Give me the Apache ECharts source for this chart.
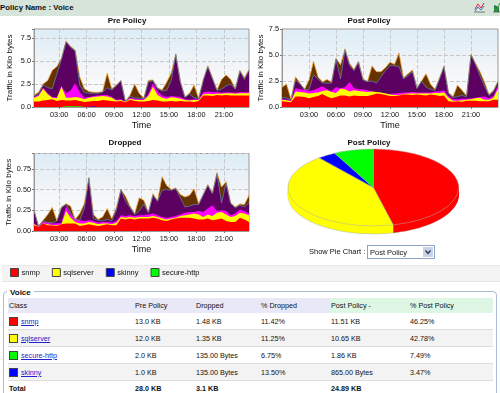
<!DOCTYPE html>
<html>
<head>
<meta charset="utf-8">
<script src="https://cdn.jsdelivr.net/npm/echarts@6/dist/echarts.min.js"></script>
<style>
  html, body { margin: 0; padding: 0; background: #fff; }
  body { position: relative; width: 500px; height: 393px; overflow: hidden; font-family: "Liberation Sans", sans-serif; color: #111; filter: blur(0.3px); }
  #main { position: absolute; left: 0; top: 0; width: 500px; height: 290px; z-index: 1; }
  .banner { position: absolute; left: 0; top: 0; width: 500px; height: 16px; background: #d6e4da; font: bold 7.8px/15px "Liberation Sans", sans-serif; color: #111; }
  .banner svg { position: absolute; top: 2px; }
  .legendStrip { position: absolute; left: 2px; top: 265px; width: 498px; height: 15px; background: #f4f4f4; border-top: 1px solid #eaeaea; border-bottom: 1px solid #e6e6e6; }
  .pieCtl { position: absolute; left: 309px; top: 245px; z-index: 2; font-size: 7.5px; line-height: 14px; white-space: nowrap; }
  .pieCtl select { position: absolute; left: 58px; top: 0; width: 68px; height: 14px; box-sizing: border-box; padding: 0 0 0 2px; font: 7.5px "Liberation Sans", sans-serif; color: #111; border: 1px solid #8ea3c4; border-radius: 0; background: #fff; appearance: none; }
  .pieCtl .arrow { position: absolute; left: 114px; top: 2px; width: 10px; height: 10px; background: #c6d3ea; pointer-events: none; }
  .box { position: absolute; left: 3px; top: 291px; width: 494px; height: 110px; box-sizing: border-box; border: 1px solid #a9bbd6; border-radius: 4px; }
  .box b { position: absolute; left: 3px; top: -4px; padding: 0 3px; background: #fff; font-size: 8px; line-height: 9px; }
  table { position: absolute; left: 8px; top: 298px; width: 485px; border-collapse: collapse; table-layout: fixed; font-size: 7.2px; }
  td, th { padding: 0 0 0 1px; text-align: left; font-weight: normal; white-space: nowrap; overflow: hidden; }
  thead th { height: 15px; background: #e8e8f6; }
  thead th.post { background: #def6e4; }
  tbody td { height: 16px; border-bottom: 1px solid #ddd; }
  tbody tr:nth-child(even) td { background: #f3f3f3; }
  tbody tr.total td { font-weight: bold; border-top: 1px solid #bbb; border-bottom: 0; height: 14px; }
  .sw { display: inline-block; width: 7px; height: 7px; border: 1px solid #444; margin-right: 3px; vertical-align: -2px; }
  a { color: #2222cc; }
</style>
</head>
<body>
<div class="banner">Policy Name : Voice
  <svg style="left:474px" width="11" height="11"><path d="M0 10 L11 10" stroke="#777"/><path d="M1 7 L4 2 L7 6 L10 1" stroke="#d24" fill="none"/><path d="M1 9 L4 5 L7 8 L10 4" stroke="#37c" fill="none"/></svg>
  <svg style="left:493px" width="7" height="11"><path d="M0 10 L7 10" stroke="#777"/><path d="M1 3 L1 10 L6 10 L6 5 Z" fill="#2a7a4a"/><path d="M1 6 L3 9 L7 1" stroke="#3a3" fill="none"/></svg>
</div>
<div class="legendStrip"></div>
<div id="main"></div>
<div class="pieCtl">Show Pie Chart :
  <select><option>Post Policy</option><option>Pre Policy</option><option>Dropped</option></select>
  <span class="arrow"><svg width="10" height="10"><path d="M2.5 3.5 L5 6.5 L7.5 3.5" stroke="#334" stroke-width="1.3" fill="none"/></svg></span>
</div>
<div class="box"><b>Voice</b></div>
<table id="tbl"></table>

<script>
// Every "Top" array is the upper edge of that layer,
// the layers are painted from the highest edge down so each one covers the rest.
const preRedTop = [.6,.6,.7,.75,.85,.65,.75,.7,.7,.75,.65,.55,
  .6,.65,.65,.75,.7,.65,.6,.65,.5,.8,.65,.6,
  .6,.65,.75,.7,.6,.6,.65,.6,.65,.6,.6,.55,
  .65,1.25,1.25,1.2,1.3,1.25,1.3,1.25,1.25,1.25,1.25,1.25];
const preYellowTop = [1.0,1.2,2.0,1.4,1.0,.95,2.2,1.0,1.0,1.1,1.0,.85,
  1.0,1.1,1.15,1.2,1.15,1.0,.7,.75,.55,.9,.8,.75,
  .75,1.2,2.2,1.3,1.0,.9,1.05,1.0,.9,.75,.7,.75,
  .75,1.4,1.45,1.4,1.45,1.45,1.5,1.5,1.45,1.5,1.5,1.5];
const preMagentaTop = [1.1,1.3,2.1,1.5,1.1,1.05,2.3,1.5,1.8,2.6,1.6,1.0,
  1.1,1.2,1.25,1.3,1.3,1.1,.8,.85,.57,1.0,.9,.85,
  .85,1.4,2.6,1.7,1.25,1.1,1.2,1.15,1.1,.85,.8,.85,
  .85,1.6,1.7,1.6,1.6,1.55,1.6,1.6,1.55,1.6,1.6,1.6];
const prePurpleTop = [1.2,1.4,2.4,2.1,2.0,3.6,5.2,7.1,6.5,6.1,2.4,1.6,
  1.5,1.5,1.5,1.6,2.1,1.85,2.3,2.85,.58,1.15,1.0,.95,
  .92,2.75,2.85,2.0,1.75,1.8,2.9,5.75,2.7,1.05,1.4,1.0,
  .92,2.9,4.4,3.1,1.8,1.95,2.3,2.5,1.95,3.9,3.0,4.0];
const preBrownTop = [1.3,1.6,2.5,2.9,4.0,4.4,5.3,7.2,6.6,6.2,3.3,2.0,
  1.7,1.6,1.6,1.7,3.7,2.0,2.4,2.9,.6,1.3,2.5,1.5,
  .95,2.9,2.95,2.1,1.85,2.7,3.7,5.8,2.8,1.1,1.5,2.4,
  .95,3.0,4.5,3.2,1.85,3.0,3.5,3.0,2.0,4.0,3.2,4.1];
// the thin strips lying on the axis of the Pre Policy chart
const preGreen = [0,0,0,0,0,0,0,.07,.08,.08,.07,0,
  0,0,0,0,0,0,0,0,0,0,0,0,
  0,0,0,0,0,0,0,0,0,0,0,0,
  0,0,0,0,0,0,0,0,0,0,0,0];
const preBlue = [0,0,0,0,0,0,0,0,0,0,0,0,
  .04,.05,0,0,0,0,0,0,0,0,0,0,
  0,0,0,0,0,0,0,0,0,0,0,0,
  0,0,0,0,0,0,0,0,0,0,0,0];

const postRedTop = [.55,.5,.45,1.0,1.0,.95,.85,.95,1.05,1.25,1.0,.85,
  .95,1.1,1.1,1.0,1.1,1.05,1.05,1.05,1.15,1.3,1.25,1.15,
  1.05,1.05,1.1,1.2,1.2,1.15,1.2,1.15,1.1,1.2,1.15,1.05,
  1.1,.55,.5,.55,.5,.6,.6,.6,.55,.55,.55,.7,.7];
const postYellowTop = [.7,.65,.55,1.5,1.45,1.4,1.3,1.35,1.4,1.55,1.6,1.45,
  1.35,1.75,1.7,1.5,1.6,1.55,1.5,1.45,1.5,1.45,1.4,1.3,
  1.2,1.15,1.15,1.25,1.3,1.3,1.3,1.3,1.3,1.3,1.35,1.35,
  1.4,.9,.6,.6,.65,.7,.75,.85,.9,.7,.7,.9,1.75];
const postMagentaTop = [.75,.7,.65,1.8,1.7,1.65,1.55,1.6,1.8,2.0,1.7,1.55,
  1.9,1.8,1.9,2.4,1.8,1.7,1.7,1.6,1.5,1.4,1.35,1.3,
  1.25,1.3,1.35,1.4,1.4,1.45,1.4,1.4,1.4,1.4,1.5,1.5,
  1.6,1.05,.75,.75,.8,.8,.8,.9,.95,1.0,.85,1.05,2.1];
const postPurpleTop = [.9,.85,.7,2.6,2.2,1.7,1.65,3.1,2.7,2.3,2.3,2.3,
  4.6,2.7,5.5,4.0,3.5,4.3,2.6,2.45,2.5,2.3,2.9,3.5,
  4.0,3.95,3.9,2.7,3.0,3.4,1.8,2.5,1.9,1.7,1.6,2.7,
  3.9,1.3,.9,1.0,1.1,1.0,5.0,4.1,3.0,2.0,1.1,1.5,2.4];
const postBrownTop = [1.9,2.2,.75,2.9,2.3,1.7,2.6,4.4,2.9,2.4,2.65,2.4,
  4.7,4.05,5.6,4.2,3.6,4.4,2.7,2.45,3.95,3.4,3.4,3.8,
  4.3,4.1,5.2,2.8,3.2,3.55,1.8,2.5,3.2,2.2,1.7,2.8,
  3.95,1.4,1.0,2.1,1.6,1.1,5.1,4.2,3.4,2.4,1.2,1.6,2.5];

const dropRedTop = [.07,.05,.09,.07,.065,.06,.08,.09,.09,.09,.06,.07,
  .08,.07,.06,.07,.08,.07,.07,.15,.14,.15,.14,.15,
  .15,.15,.16,.15,.13,.12,.14,.15,.16,.16,.16,.15,
  .14,.14,.15,.13,.14,.15,.12,.11,.11,.16,.14,.11];
const dropYellowTop = [.08,.05,.09,.08,.07,.07,.08,.24,.16,.11,.09,.09,
  .11,.1,.08,.09,.09,.08,.1,.17,.16,.17,.16,.17,
  .17,.17,.18,.17,.15,.14,.15,.16,.18,.19,.2,.21,
  .2,.17,.2,.18,.22,.23,.2,.17,.18,.22,.21,.19];
const dropMagentaTop = [.09,.06,.11,.1,.09,.09,.1,.3,.2,.15,.13,.12,
  .13,.12,.1,.11,.11,.1,.12,.19,.18,.19,.18,.19,
  .19,.2,.21,.19,.17,.16,.17,.18,.2,.22,.23,.23,
  .24,.23,.27,.31,.24,.25,.24,.19,.21,.26,.24,.21];
const dropPurpleTop = [.25,.055,.12,.1,.1,.12,.28,.32,.22,.13,.13,.27,
  .64,.15,.13,.12,.14,.12,.25,.5,.36,.28,.2,.24,
  .32,.22,.43,.36,.49,.5,.49,.51,.4,.29,.3,.32,
  .32,.44,.55,.45,.69,.34,.58,.33,.28,.31,.29,.34];
const dropBrownTop = [.25,.06,.13,.2,.285,.125,.29,.33,.3,.14,.21,.33,
  .645,.2,.14,.17,.27,.15,.28,.5,.42,.3,.21,.4,
  .37,.23,.45,.365,.655,.55,.5,.52,.44,.41,.43,.51,
  .33,.44,.56,.46,.705,.53,.595,.34,.29,.325,.32,.43];

const tickHours = [3, 6, 9, 12, 15, 18, 21];

const pieNames = ['snmp', 'sqlserver', 'skinny', 'secure-http'];
const pieKb = [11.51, 10.65, 0.865, 1.86];
const pieColors = ['#ff0000', '#ffff00', '#0000ff', '#00ff00'];

const tableHead = ['Class', 'Pre Policy', 'Dropped', '% Dropped', 'Post Policy -', '% Post Policy'];
const tableRows = [
  ['snmp', '#ff0000', '13.0 KB', '1.48 KB', '11.42%', '11.51 KB', '46.25%'],
  ['sqlserver', '#ffff00', '12.0 KB', '1.35 KB', '11.25%', '10.65 KB', '42.78%'],
  ['secure-http', '#00ff00', '2.0 KB', '135.00 Bytes', '6.75%', '1.86 KB', '7.49%'],
  ['skinny', '#0000ff', '1.0 KB', '135.00 Bytes', '13.50%', '865.00 Bytes', '3.47%']
];
const tableTotal = ['Total', '28.0 KB', '3.1 KB', '', '24.89 KB', ''];

// half hour samples as hours of the day, only the start differs between the charts
function halfHours(start, count){
  const out = [];
  for(let i = 0; i < count; i++) out.push(start + i * 0.5);
  return out;
}

function hhmm(hour){
  return String(Math.floor(hour)).padStart(2, '0') + ':00';
}

const font = '"Liberation Sans", sans-serif';
const grids = [
  { left: 34, top: 29, width: 215, height: 78 },
  { left: 282, top: 29, width: 216, height: 78 },
  { left: 34, top: 153.5, width: 215, height: 77.5 }
].map(g => Object.assign(g, {
  show: true,
  borderColor: '#9a9a9a',
  borderWidth: 1,
  backgroundColor: { type: 'linear', x: 0, y: 0, x2: 0, y2: 1, colorStops: [
    { offset: 0, color: '#dcecf6' }, { offset: 0.5, color: '#f3f5f8' }, { offset: 1, color: '#ffffff' }
  ] }
}));

const splitStyle = { show: true, lineStyle: { color: '#c8c8c8', type: 'dashed', width: 1 } };

function xAxis(gridIndex, times){
  return {
    type: 'value', gridIndex,
    min: times[0], max: times[times.length - 1],
    name: 'Time', nameLocation: 'middle', nameGap: 14,
    nameTextStyle: { fontFamily: font, fontSize: 9, color: '#111' },
    axisLine: { lineStyle: { color: '#9a9a9a' } },
    axisTick: { length: 2, lineStyle: { color: '#777' }, customValues: tickHours },
    axisLabel: { customValues: tickHours, formatter: hhmm, fontFamily: font, fontSize: 7.3, color: '#111', margin: 4 },
    splitLine: splitStyle
  };
}

function yAxis(gridIndex, max, interval, decimals, nameGap){
  return {
    type: 'value', gridIndex, min: 0, max, interval,
    name: 'Traffic in Kilo bytes', nameLocation: 'middle', nameGap,
    nameTextStyle: { fontFamily: font, fontSize: 8, color: '#111' },
    axisLine: { show: true, lineStyle: { color: '#9a9a9a' } },
    axisTick: { show: true, length: 2, lineStyle: { color: '#777' } },
    axisLabel: {
      formatter: v => (Math.abs(v / interval - Math.round(v / interval)) > 1e-6 ? '' : v.toFixed(decimals)),
      fontFamily: font, fontSize: 7.3, color: '#111', margin: 3
    },
    splitLine: splitStyle
  };
}

function layer(name, color, idx, times, top, lineColor){
  return {
    name, type: 'line', xAxisIndex: idx, yAxisIndex: idx,
    showSymbol: false, silent: true,
    lineStyle: lineColor ? { color: lineColor, width: 0.8 } : { width: 0 },
    itemStyle: { color },
    areaStyle: { color, opacity: 1 },
    data: top.map((v, i) => [times[i], v])
  };
}

// painted in this order, highest edge first
function stackFor(idx, times, red, yellow, magenta, purple, brown){
  return [
    layer('class-brown', '#663300', idx, times, brown, '#f2a63a'),
    layer('class-purple', '#5c0062', idx, times, purple, '#5f7fa8'),
    layer('class-magenta', '#ff00ff', idx, times, magenta),
    layer('sqlserver', '#ffff00', idx, times, yellow),
    layer('snmp', '#ff0000', idx, times, red)
  ];
}

const preTimes = halfHours(0.25, 48);
const postTimes = halfHours(0, 49);
const dropTimes = halfHours(0.25, 48);

// pie on a tilted plane: the sectors are squashed and the wall is the same sector repeated lower down
const pieCx = 373.3, pieCy = 187.5, pieRx = 85.3, pieSquash = 0.451, pieDepth = 8;
const pieTotal = pieKb.reduce((a, b) => a + b, 0);

function pieSector(dataIndex, value, dy, stroke){
  let before = 0;
  for(let i = 0; i < dataIndex; i++) before += pieKb[i];
  const a0 = -Math.PI / 2 + before / pieTotal * Math.PI * 2;
  const a1 = a0 + value / pieTotal * Math.PI * 2;
  return {
    type: 'sector', x: pieCx, y: pieCy + dy, scaleY: pieSquash,
    shape: { cx: 0, cy: 0, r0: 0, r: pieRx, startAngle: a0, endAngle: a1, clockwise: true },
    style: { fill: pieColors[dataIndex], stroke: stroke || pieColors[dataIndex], lineWidth: 0.7, strokeNoScale: true }
  };
}

const option = {
  animation: false,
  textStyle: { fontFamily: font },
  title: [
    { text: 'Pre Policy', left: 127, top: 17, textAlign: 'center' },
    { text: 'Post Policy', left: 369, top: 17, textAlign: 'center' },
    { text: 'Dropped', left: 125, top: 139, textAlign: 'center' },
    { text: 'Post Policy', left: 369, top: 139, textAlign: 'center' }
  ].map(t => Object.assign(t, { padding: 0, textStyle: { fontFamily: font, fontSize: 8, fontWeight: 'bold', color: '#111' } })),
  legend: {
    data: pieNames,
    left: 10, top: 268, padding: 0, icon: 'rect', itemWidth: 8, itemHeight: 8, itemGap: 12,
    selectedMode: false,
    itemStyle: { borderColor: '#444', borderWidth: 1 },
    textStyle: { fontFamily: font, fontSize: 7.5, color: '#111', padding: [0, 0, 0, -2] }
  },
  grid: grids,
  xAxis: [xAxis(0, preTimes), xAxis(1, postTimes), xAxis(2, dropTimes)],
  yAxis: [yAxis(0, 8.5, 2.5, 1, 20), yAxis(1, 7.5, 2.5, 1, 14), yAxis(2, 0.935, 0.25, 2, 20)],
  series: stackFor(0, preTimes, preRedTop, preYellowTop, preMagentaTop, prePurpleTop, preBrownTop).concat(
    [layer('secure-http', '#00ff00', 0, preTimes, preGreen), layer('skinny', '#0000ff', 0, preTimes, preBlue)],
    stackFor(1, postTimes, postRedTop, postYellowTop, postMagentaTop, postPurpleTop, postBrownTop),
    stackFor(2, dropTimes, dropRedTop, dropYellowTop, dropMagentaTop, dropPurpleTop, dropBrownTop),
    [{
      type: 'custom', name: 'pie wall', coordinateSystem: 'none', silent: true, z: 3,
      data: pieKb,
      renderItem: function(params, api){
        const children = [];
        for(let dy = pieDepth; dy > 0; dy--){
          children.push(pieSector(params.dataIndex, api.value(0), dy, dy === pieDepth ? '#aaaaaa' : null));
        }
        return { type: 'group', children };
      }
    }, {
      type: 'custom', name: 'pie top', coordinateSystem: 'none', silent: true, z: 4,
      data: pieKb,
      renderItem: function(params, api){
        return pieSector(params.dataIndex, api.value(0), 0, '#b0b0a8');
      }
    }]
  )
};

const chart = echarts.init(document.getElementById('main'), null, { renderer: 'canvas' });
chart.setOption(option);

// table under the charts
const colWidths = [126, 61, 65, 70, 79, 84];
let html = '<colgroup>' + colWidths.map(w => '<col style="width:' + w + 'px">').join('') + '</colgroup><thead><tr>';
tableHead.forEach((h, i) => { html += '<th' + (i >= 4 ? ' class="post"' : '') + '>' + h + '</th>'; });
html += '</tr></thead><tbody>';
tableRows.forEach(r => {
  html += '<tr><td><span class="sw" style="background:' + r[1] + '"></span><a href="#">' + r[0] + '</a></td>';
  r.slice(2).forEach(c => { html += '<td>' + c + '</td>'; });
  html += '</tr>';
});
html += '<tr class="total">' + tableTotal.map(c => '<td>' + c + '</td>').join('') + '</tr></tbody>';
document.getElementById('tbl').innerHTML = html;
</script>
</body>
</html>
